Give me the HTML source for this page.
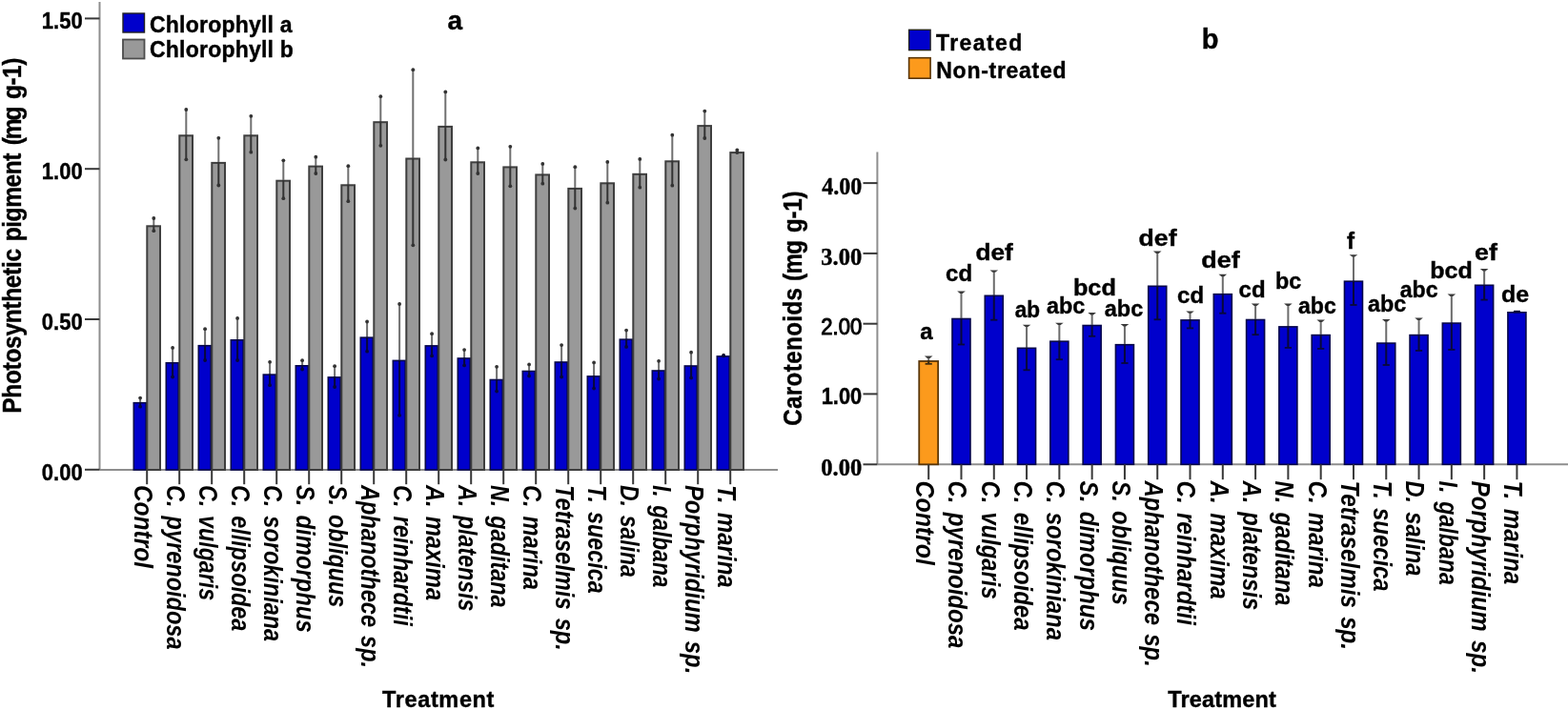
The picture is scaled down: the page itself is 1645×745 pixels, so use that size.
<!DOCTYPE html>
<html lang="en"><head><meta charset="utf-8"><title>Pigment charts</title>
<style>
html,body{margin:0;padding:0;background:#fff;}
body{width:1645px;height:745px;overflow:hidden;}
svg{display:block;filter:blur(0.65px);}
text{font-family:"Liberation Sans",Arial,Helvetica,sans-serif;font-weight:bold;fill:#000;stroke:#000;stroke-width:0.4px;}
.serif{font-family:"Liberation Serif","Times New Roman",serif;}
.semi{font-weight:normal;stroke-width:1px;}
.xl{font-style:italic;font-size:28.4px;stroke:none;word-spacing:3px;}
.yt{font-size:22px;}
.lg{font-size:22px;}
.lt{font-size:24px;}
.ttl{font-size:28px;}
.axt{font-size:22px;}
.ylab{font-size:28.5px;}
.ax{stroke:#8e8e8e;stroke-width:2;fill:none;}
.tk{stroke:#383838;stroke-width:2;fill:none;}
.bb{fill:#0000cc;stroke:#06064a;stroke-width:1.6;}
.bg{fill:#999999;stroke:#3e3e3e;stroke-width:2;}
.bo{fill:#fc9a1c;stroke:#5a3608;stroke-width:1.8;}
</style></head><body>
<svg width="1645" height="745" viewBox="0 0 1645 745">
<rect x="0" y="0" width="1645" height="745" fill="#ffffff"/>
<g id="chart-a">
<line class="ax" x1="104.5" y1="2" x2="104.5" y2="493"/>
<line class="ax" x1="104.5" y1="493" x2="816" y2="493"/>
<line class="tk" x1="89" y1="19.4" x2="104.5" y2="19.4"/>
<text class="yt" style="font-size:23.5px;" x="43.86" y="30.4" textLength="42.84" lengthAdjust="spacingAndGlyphs">1.50</text>
<line class="tk" x1="89" y1="177.2" x2="104.5" y2="177.2"/>
<text class="yt" style="font-size:23.5px;" x="43.86" y="188.2" textLength="42.84" lengthAdjust="spacingAndGlyphs">1.00</text>
<line class="tk" x1="89" y1="335" x2="104.5" y2="335"/>
<text class="yt" style="font-size:23.5px;" x="43.86" y="346" textLength="42.84" lengthAdjust="spacingAndGlyphs">0.50</text>
<line class="tk" x1="89" y1="492.8" x2="104.5" y2="492.8"/>
<text class="yt" style="font-size:23.5px;" x="43.86" y="503.8" textLength="42.84" lengthAdjust="spacingAndGlyphs">0.00</text>
<rect class="bb" x="140.3" y="422.7" width="12.9" height="70.3"/>
<line x1="147.1" y1="416.4" x2="147.1" y2="421.9" stroke="#707070" stroke-width="2"/><line x1="147.1" y1="421.9" x2="147.1" y2="427.9" stroke="#08083a" stroke-width="2"/><circle cx="147.1" cy="417.6" r="1.9" fill="#333"/><circle cx="147.1" cy="426.7" r="1.9" fill="#08083a"/>
<rect class="bg" x="154.3" y="237.3" width="13.7" height="255.7"/>
<line x1="161.3" y1="227.8" x2="161.3" y2="236.3" stroke="#707070" stroke-width="2"/><line x1="161.3" y1="236.3" x2="161.3" y2="243.4" stroke="#333333" stroke-width="2"/><circle cx="161.3" cy="229" r="1.9" fill="#333"/><circle cx="161.3" cy="242.2" r="1.9" fill="#333333"/>
<line class="tk" x1="154.2" y1="493" x2="154.2" y2="508.2"/>
<text class="xl" style="font-size:28.4px" transform="translate(141.2,508.9) rotate(90) scale(0.8634,1)">Control</text>
<rect class="bb" x="174.3" y="380.8" width="12.9" height="112.2"/>
<line x1="181.1" y1="363.7" x2="181.1" y2="380" stroke="#707070" stroke-width="2"/><line x1="181.1" y1="380" x2="181.1" y2="396.7" stroke="#08083a" stroke-width="2"/><circle cx="181.1" cy="364.9" r="1.9" fill="#333"/><circle cx="181.1" cy="395.5" r="1.9" fill="#08083a"/>
<rect class="bg" x="188.3" y="142.3" width="13.7" height="350.7"/>
<line x1="195.3" y1="113.8" x2="195.3" y2="141.3" stroke="#707070" stroke-width="2"/><line x1="195.3" y1="141.3" x2="195.3" y2="168.5" stroke="#333333" stroke-width="2"/><circle cx="195.3" cy="115" r="1.9" fill="#333"/><circle cx="195.3" cy="167.3" r="1.9" fill="#333333"/>
<line class="tk" x1="188.2" y1="493" x2="188.2" y2="508.2"/>
<text class="xl" style="font-size:28.4px" transform="translate(175.2,508.9) rotate(90) scale(0.8300,1)">C. pyrenoidosa</text>
<rect class="bb" x="208.3" y="362.7" width="12.9" height="130.3"/>
<line x1="215.1" y1="344" x2="215.1" y2="361.9" stroke="#707070" stroke-width="2"/><line x1="215.1" y1="361.9" x2="215.1" y2="379.2" stroke="#08083a" stroke-width="2"/><circle cx="215.1" cy="345.2" r="1.9" fill="#333"/><circle cx="215.1" cy="378" r="1.9" fill="#08083a"/>
<rect class="bg" x="222.3" y="170.9" width="13.7" height="322.1"/>
<line x1="229.3" y1="143.6" x2="229.3" y2="169.9" stroke="#707070" stroke-width="2"/><line x1="229.3" y1="169.9" x2="229.3" y2="195.7" stroke="#333333" stroke-width="2"/><circle cx="229.3" cy="144.8" r="1.9" fill="#333"/><circle cx="229.3" cy="194.5" r="1.9" fill="#333333"/>
<line class="tk" x1="222.2" y1="493" x2="222.2" y2="508.2"/>
<text class="xl" style="font-size:28.4px" transform="translate(209.2,508.9) rotate(90) scale(0.8190,1)">C. vulgaris</text>
<rect class="bb" x="242.3" y="356.8" width="12.9" height="136.2"/>
<line x1="249.1" y1="332.7" x2="249.1" y2="356" stroke="#707070" stroke-width="2"/><line x1="249.1" y1="356" x2="249.1" y2="379.2" stroke="#08083a" stroke-width="2"/><circle cx="249.1" cy="333.9" r="1.9" fill="#333"/><circle cx="249.1" cy="378" r="1.9" fill="#08083a"/>
<rect class="bg" x="256.3" y="142.3" width="13.7" height="350.7"/>
<line x1="263.3" y1="120.6" x2="263.3" y2="141.3" stroke="#707070" stroke-width="2"/><line x1="263.3" y1="141.3" x2="263.3" y2="160.9" stroke="#333333" stroke-width="2"/><circle cx="263.3" cy="121.8" r="1.9" fill="#333"/><circle cx="263.3" cy="159.7" r="1.9" fill="#333333"/>
<line class="tk" x1="256.2" y1="493" x2="256.2" y2="508.2"/>
<text class="xl" style="font-size:28.4px" transform="translate(243.2,508.9) rotate(90) scale(0.8249,1)">C. ellipsoidea</text>
<rect class="bb" x="276.3" y="393.1" width="12.9" height="99.9"/>
<line x1="283.1" y1="378.6" x2="283.1" y2="392.3" stroke="#707070" stroke-width="2"/><line x1="283.1" y1="392.3" x2="283.1" y2="405.4" stroke="#08083a" stroke-width="2"/><circle cx="283.1" cy="379.8" r="1.9" fill="#333"/><circle cx="283.1" cy="404.2" r="1.9" fill="#08083a"/>
<rect class="bg" x="290.3" y="189.7" width="13.7" height="303.3"/>
<line x1="297.3" y1="167.1" x2="297.3" y2="188.7" stroke="#707070" stroke-width="2"/><line x1="297.3" y1="188.7" x2="297.3" y2="209.4" stroke="#333333" stroke-width="2"/><circle cx="297.3" cy="168.3" r="1.9" fill="#333"/><circle cx="297.3" cy="208.2" r="1.9" fill="#333333"/>
<line class="tk" x1="290.2" y1="493" x2="290.2" y2="508.2"/>
<text class="xl" style="font-size:28.4px" transform="translate(277.2,508.9) rotate(90) scale(0.8268,1)">C. sorokiniana</text>
<rect class="bb" x="310.3" y="383.8" width="12.9" height="109.2"/>
<line x1="317.1" y1="377" x2="317.1" y2="383" stroke="#707070" stroke-width="2"/><line x1="317.1" y1="383" x2="317.1" y2="388.7" stroke="#08083a" stroke-width="2"/><circle cx="317.1" cy="378.2" r="1.9" fill="#333"/><circle cx="317.1" cy="387.5" r="1.9" fill="#08083a"/>
<rect class="bg" x="324.3" y="174.6" width="13.7" height="318.4"/>
<line x1="331.3" y1="163.5" x2="331.3" y2="173.6" stroke="#707070" stroke-width="2"/><line x1="331.3" y1="173.6" x2="331.3" y2="183.2" stroke="#333333" stroke-width="2"/><circle cx="331.3" cy="164.7" r="1.9" fill="#333"/><circle cx="331.3" cy="182" r="1.9" fill="#333333"/>
<line class="tk" x1="324.2" y1="493" x2="324.2" y2="508.2"/>
<text class="xl" style="font-size:28.4px" transform="translate(311.2,508.9) rotate(90) scale(0.8393,1)">S. dimorphus</text>
<rect class="bb" x="344.3" y="395.9" width="12.9" height="97.1"/>
<line x1="351.1" y1="383" x2="351.1" y2="395.1" stroke="#707070" stroke-width="2"/><line x1="351.1" y1="395.1" x2="351.1" y2="407.2" stroke="#08083a" stroke-width="2"/><circle cx="351.1" cy="384.2" r="1.9" fill="#333"/><circle cx="351.1" cy="406" r="1.9" fill="#08083a"/>
<rect class="bg" x="358.3" y="194.3" width="13.7" height="298.7"/>
<line x1="365.3" y1="173" x2="365.3" y2="193.3" stroke="#707070" stroke-width="2"/><line x1="365.3" y1="193.3" x2="365.3" y2="212.4" stroke="#333333" stroke-width="2"/><circle cx="365.3" cy="174.2" r="1.9" fill="#333"/><circle cx="365.3" cy="211.2" r="1.9" fill="#333333"/>
<line class="tk" x1="358.2" y1="493" x2="358.2" y2="508.2"/>
<text class="xl" style="font-size:28.4px" transform="translate(345.2,508.9) rotate(90) scale(0.8226,1)">S. obliquus</text>
<rect class="bb" x="378.3" y="354.2" width="12.9" height="138.8"/>
<line x1="385.1" y1="336.3" x2="385.1" y2="353.4" stroke="#707070" stroke-width="2"/><line x1="385.1" y1="353.4" x2="385.1" y2="369.9" stroke="#08083a" stroke-width="2"/><circle cx="385.1" cy="337.5" r="1.9" fill="#333"/><circle cx="385.1" cy="368.7" r="1.9" fill="#08083a"/>
<rect class="bg" x="392.3" y="128.2" width="13.7" height="364.8"/>
<line x1="399.3" y1="100" x2="399.3" y2="127.2" stroke="#707070" stroke-width="2"/><line x1="399.3" y1="127.2" x2="399.3" y2="154" stroke="#333333" stroke-width="2"/><circle cx="399.3" cy="101.2" r="1.9" fill="#333"/><circle cx="399.3" cy="152.8" r="1.9" fill="#333333"/>
<line class="tk" x1="392.2" y1="493" x2="392.2" y2="508.2"/>
<text class="xl" style="font-size:28.4px" transform="translate(379.2,508.9) rotate(90) scale(0.8293,1)">Aphanothece sp.</text>
<rect class="bb" x="412.3" y="378.4" width="12.9" height="114.6"/>
<line x1="419.1" y1="317.8" x2="419.1" y2="377.6" stroke="#707070" stroke-width="2"/><line x1="419.1" y1="377.6" x2="419.1" y2="437" stroke="#08083a" stroke-width="2"/><circle cx="419.1" cy="319" r="1.9" fill="#333"/><circle cx="419.1" cy="435.8" r="1.9" fill="#08083a"/>
<rect class="bg" x="426.3" y="166.5" width="13.7" height="326.5"/>
<line x1="433.3" y1="72" x2="433.3" y2="165.5" stroke="#707070" stroke-width="2"/><line x1="433.3" y1="165.5" x2="433.3" y2="258.5" stroke="#333333" stroke-width="2"/><circle cx="433.3" cy="73.2" r="1.9" fill="#333"/><circle cx="433.3" cy="257.3" r="1.9" fill="#333333"/>
<line class="tk" x1="426.2" y1="493" x2="426.2" y2="508.2"/>
<text class="xl" style="font-size:28.4px" transform="translate(413.2,508.9) rotate(90) scale(0.8302,1)">C. reinhardtii</text>
<rect class="bb" x="446.3" y="362.9" width="12.9" height="130.1"/>
<line x1="453.1" y1="349" x2="453.1" y2="362.1" stroke="#707070" stroke-width="2"/><line x1="453.1" y1="362.1" x2="453.1" y2="374.6" stroke="#08083a" stroke-width="2"/><circle cx="453.1" cy="350.2" r="1.9" fill="#333"/><circle cx="453.1" cy="373.4" r="1.9" fill="#08083a"/>
<rect class="bg" x="460.3" y="132.9" width="13.7" height="360.1"/>
<line x1="467.3" y1="95.2" x2="467.3" y2="131.9" stroke="#707070" stroke-width="2"/><line x1="467.3" y1="131.9" x2="467.3" y2="168.7" stroke="#333333" stroke-width="2"/><circle cx="467.3" cy="96.4" r="1.9" fill="#333"/><circle cx="467.3" cy="167.5" r="1.9" fill="#333333"/>
<line class="tk" x1="460.2" y1="493" x2="460.2" y2="508.2"/>
<text class="xl" style="font-size:28.4px" transform="translate(447.2,508.9) rotate(90) scale(0.8361,1)">A. maxima</text>
<rect class="bb" x="480.3" y="376" width="12.9" height="117"/>
<line x1="487.1" y1="365.9" x2="487.1" y2="375.2" stroke="#707070" stroke-width="2"/><line x1="487.1" y1="375.2" x2="487.1" y2="384.6" stroke="#08083a" stroke-width="2"/><circle cx="487.1" cy="367.1" r="1.9" fill="#333"/><circle cx="487.1" cy="383.4" r="1.9" fill="#08083a"/>
<rect class="bg" x="494.3" y="170.3" width="13.7" height="322.7"/>
<line x1="501.3" y1="154.2" x2="501.3" y2="169.3" stroke="#707070" stroke-width="2"/><line x1="501.3" y1="169.3" x2="501.3" y2="183.2" stroke="#333333" stroke-width="2"/><circle cx="501.3" cy="155.4" r="1.9" fill="#333"/><circle cx="501.3" cy="182" r="1.9" fill="#333333"/>
<line class="tk" x1="494.2" y1="493" x2="494.2" y2="508.2"/>
<text class="xl" style="font-size:28.4px" transform="translate(481.2,508.9) rotate(90) scale(0.8168,1)">A. platensis</text>
<rect class="bb" x="514.3" y="398.5" width="12.9" height="94.5"/>
<line x1="521.1" y1="383.6" x2="521.1" y2="397.7" stroke="#707070" stroke-width="2"/><line x1="521.1" y1="397.7" x2="521.1" y2="411.8" stroke="#08083a" stroke-width="2"/><circle cx="521.1" cy="384.8" r="1.9" fill="#333"/><circle cx="521.1" cy="410.6" r="1.9" fill="#08083a"/>
<rect class="bg" x="528.3" y="175.4" width="13.7" height="317.6"/>
<line x1="535.3" y1="152.6" x2="535.3" y2="174.4" stroke="#707070" stroke-width="2"/><line x1="535.3" y1="174.4" x2="535.3" y2="196.5" stroke="#333333" stroke-width="2"/><circle cx="535.3" cy="153.8" r="1.9" fill="#333"/><circle cx="535.3" cy="195.3" r="1.9" fill="#333333"/>
<line class="tk" x1="528.2" y1="493" x2="528.2" y2="508.2"/>
<text class="xl" style="font-size:28.4px" transform="translate(515.2,508.9) rotate(90) scale(0.8252,1)">N. gaditana</text>
<rect class="bb" x="548.3" y="389.5" width="12.9" height="103.5"/>
<line x1="555.1" y1="381.2" x2="555.1" y2="388.7" stroke="#707070" stroke-width="2"/><line x1="555.1" y1="388.7" x2="555.1" y2="395.7" stroke="#08083a" stroke-width="2"/><circle cx="555.1" cy="382.4" r="1.9" fill="#333"/><circle cx="555.1" cy="394.5" r="1.9" fill="#08083a"/>
<rect class="bg" x="562.3" y="183.4" width="13.7" height="309.6"/>
<line x1="569.3" y1="170.7" x2="569.3" y2="182.4" stroke="#707070" stroke-width="2"/><line x1="569.3" y1="182.4" x2="569.3" y2="193.9" stroke="#333333" stroke-width="2"/><circle cx="569.3" cy="171.9" r="1.9" fill="#333"/><circle cx="569.3" cy="192.7" r="1.9" fill="#333333"/>
<line class="tk" x1="562.2" y1="493" x2="562.2" y2="508.2"/>
<text class="xl" style="font-size:28.4px" transform="translate(549.2,508.9) rotate(90) scale(0.8313,1)">C. marina</text>
<rect class="bb" x="582.3" y="380" width="12.9" height="113"/>
<line x1="589.1" y1="360.9" x2="589.1" y2="379.2" stroke="#707070" stroke-width="2"/><line x1="589.1" y1="379.2" x2="589.1" y2="396.7" stroke="#08083a" stroke-width="2"/><circle cx="589.1" cy="362.1" r="1.9" fill="#333"/><circle cx="589.1" cy="395.5" r="1.9" fill="#08083a"/>
<rect class="bg" x="596.3" y="197.9" width="13.7" height="295.1"/>
<line x1="603.3" y1="174" x2="603.3" y2="196.9" stroke="#707070" stroke-width="2"/><line x1="603.3" y1="196.9" x2="603.3" y2="219.8" stroke="#333333" stroke-width="2"/><circle cx="603.3" cy="175.2" r="1.9" fill="#333"/><circle cx="603.3" cy="218.6" r="1.9" fill="#333333"/>
<line class="tk" x1="596.2" y1="493" x2="596.2" y2="508.2"/>
<text class="xl" style="font-size:28.4px" transform="translate(583.2,508.9) rotate(90) scale(0.8340,1)">Tetraselmis sp.</text>
<rect class="bb" x="616.3" y="394.9" width="12.9" height="98.1"/>
<line x1="623.1" y1="379.2" x2="623.1" y2="394.1" stroke="#707070" stroke-width="2"/><line x1="623.1" y1="394.1" x2="623.1" y2="408.8" stroke="#08083a" stroke-width="2"/><circle cx="623.1" cy="380.4" r="1.9" fill="#333"/><circle cx="623.1" cy="407.6" r="1.9" fill="#08083a"/>
<rect class="bg" x="630.3" y="192.3" width="13.7" height="300.7"/>
<line x1="637.3" y1="168.7" x2="637.3" y2="191.3" stroke="#707070" stroke-width="2"/><line x1="637.3" y1="191.3" x2="637.3" y2="213.9" stroke="#333333" stroke-width="2"/><circle cx="637.3" cy="169.9" r="1.9" fill="#333"/><circle cx="637.3" cy="212.7" r="1.9" fill="#333333"/>
<line class="tk" x1="630.2" y1="493" x2="630.2" y2="508.2"/>
<text class="xl" style="font-size:28.4px" transform="translate(617.2,508.9) rotate(90) scale(0.8248,1)">T. suecica</text>
<rect class="bb" x="650.3" y="356.2" width="12.9" height="136.8"/>
<line x1="657.1" y1="345.4" x2="657.1" y2="355.4" stroke="#707070" stroke-width="2"/><line x1="657.1" y1="355.4" x2="657.1" y2="365.1" stroke="#08083a" stroke-width="2"/><circle cx="657.1" cy="346.6" r="1.9" fill="#333"/><circle cx="657.1" cy="363.9" r="1.9" fill="#08083a"/>
<rect class="bg" x="664.3" y="182.8" width="13.7" height="310.2"/>
<line x1="671.3" y1="165.7" x2="671.3" y2="181.8" stroke="#707070" stroke-width="2"/><line x1="671.3" y1="181.8" x2="671.3" y2="197.9" stroke="#333333" stroke-width="2"/><circle cx="671.3" cy="166.9" r="1.9" fill="#333"/><circle cx="671.3" cy="196.7" r="1.9" fill="#333333"/>
<line class="tk" x1="664.2" y1="493" x2="664.2" y2="508.2"/>
<text class="xl" style="font-size:28.4px" transform="translate(651.2,508.9) rotate(90) scale(0.8092,1)">D. salina</text>
<rect class="bb" x="684.3" y="389" width="12.9" height="104"/>
<line x1="691.1" y1="377.6" x2="691.1" y2="388.2" stroke="#707070" stroke-width="2"/><line x1="691.1" y1="388.2" x2="691.1" y2="398.7" stroke="#08083a" stroke-width="2"/><circle cx="691.1" cy="378.8" r="1.9" fill="#333"/><circle cx="691.1" cy="397.5" r="1.9" fill="#08083a"/>
<rect class="bg" x="698.3" y="169.3" width="13.7" height="323.7"/>
<line x1="705.3" y1="140.5" x2="705.3" y2="168.3" stroke="#707070" stroke-width="2"/><line x1="705.3" y1="168.3" x2="705.3" y2="195.9" stroke="#333333" stroke-width="2"/><circle cx="705.3" cy="141.7" r="1.9" fill="#333"/><circle cx="705.3" cy="194.7" r="1.9" fill="#333333"/>
<line class="tk" x1="698.2" y1="493" x2="698.2" y2="508.2"/>
<text class="xl" style="font-size:28.4px" transform="translate(685.2,508.9) rotate(90) scale(0.8038,1)">I. galbana</text>
<rect class="bb" x="718.3" y="384" width="12.9" height="109"/>
<line x1="725.1" y1="368.5" x2="725.1" y2="383.2" stroke="#707070" stroke-width="2"/><line x1="725.1" y1="383.2" x2="725.1" y2="397.7" stroke="#08083a" stroke-width="2"/><circle cx="725.1" cy="369.7" r="1.9" fill="#333"/><circle cx="725.1" cy="396.5" r="1.9" fill="#08083a"/>
<rect class="bg" x="732.3" y="132.1" width="13.7" height="360.9"/>
<line x1="739.3" y1="115.4" x2="739.3" y2="131.1" stroke="#707070" stroke-width="2"/><line x1="739.3" y1="131.1" x2="739.3" y2="146.2" stroke="#333333" stroke-width="2"/><circle cx="739.3" cy="116.6" r="1.9" fill="#333"/><circle cx="739.3" cy="145" r="1.9" fill="#333333"/>
<line class="tk" x1="732.2" y1="493" x2="732.2" y2="508.2"/>
<text class="xl" style="font-size:28.4px" transform="translate(719.2,508.9) rotate(90) scale(0.8389,1)">Porphyridium sp.</text>
<rect class="bb" x="752.3" y="373.9" width="12.9" height="119.1"/>
<line x1="759.1" y1="371.5" x2="759.1" y2="373.1" stroke="#707070" stroke-width="2"/><line x1="759.1" y1="373.1" x2="759.1" y2="374.6" stroke="#08083a" stroke-width="2"/><circle cx="759.1" cy="372.7" r="1.9" fill="#333"/><circle cx="759.1" cy="373.4" r="1.9" fill="#08083a"/>
<rect class="bg" x="766.3" y="160.1" width="13.7" height="332.9"/>
<line x1="773.3" y1="156.2" x2="773.3" y2="159.1" stroke="#707070" stroke-width="2"/><line x1="773.3" y1="159.1" x2="773.3" y2="161.3" stroke="#333333" stroke-width="2"/><circle cx="773.3" cy="157.4" r="1.9" fill="#333"/><circle cx="773.3" cy="160.1" r="1.9" fill="#333333"/>
<line class="tk" x1="766.2" y1="493" x2="766.2" y2="508.2"/>
<text class="xl" style="font-size:28.4px" transform="translate(753.2,508.9) rotate(90) scale(0.8484,1)">T. marina</text>
<rect class="bb" x="129" y="14" width="22.5" height="20" style="stroke:#222;stroke-width:1.4"/>
<rect class="bg" x="129" y="41.5" width="22.5" height="20" style="stroke-width:1.8;stroke:#4d4d4d"/>
<text class="lg" style="font-size:23px;" x="157" y="34.3" textLength="149.55" lengthAdjust="spacing">Chlorophyll a</text>
<text class="lg" style="font-size:23px;" x="157" y="60" textLength="150.82" lengthAdjust="spacing">Chlorophyll b</text>
<text class="ttl" style="font-size:28px;" x="469.45" y="30.8">a</text>
<text class="axt" style="font-size:23.5px;" x="401" y="742" textLength="117.43" lengthAdjust="spacing">Treatment</text>
<text class="ylab" style="font-size:28.5px" transform="translate(21.6,432) rotate(-90) scale(0.86,1)"><tspan x="-2" style="letter-spacing:-0.37px">Photosynthetic </tspan><tspan x="207.77" style="letter-spacing:-0.49px">pigment </tspan><tspan x="325.16" style="letter-spacing:-2.38px">(mg </tspan><tspan x="381.44" style="letter-spacing:-0.62px">g-1)</tspan></text>
</g>
<g id="chart-b">
<line class="ax" x1="920.4" y1="159.5" x2="920.4" y2="487.3"/>
<line class="ax" x1="920.4" y1="487.3" x2="1645" y2="487.3"/>
<line class="tk" x1="905.5" y1="192.1" x2="920.4" y2="192.1"/>
<text class="yt serif" style="font-size:25px;" x="862.2" y="203.7" textLength="42.02" lengthAdjust="spacingAndGlyphs">4.00</text>
<line class="tk" x1="905.5" y1="265.9" x2="920.4" y2="265.9"/>
<text class="yt serif" style="font-size:25px;" x="861.22" y="277.5" textLength="43.02" lengthAdjust="spacingAndGlyphs">3.00</text>
<line class="tk" x1="905.5" y1="339.7" x2="920.4" y2="339.7"/>
<text class="yt semi" style="font-size:23.5px;" x="861.26" y="350.7" textLength="42.94" lengthAdjust="spacingAndGlyphs">2.00</text>
<line class="tk" x1="905.5" y1="413.4" x2="920.4" y2="413.4"/>
<text class="yt" style="font-size:23.5px;" x="861.67" y="424.4" textLength="42.53" lengthAdjust="spacingAndGlyphs">1.00</text>
<line class="tk" x1="905.5" y1="487.3" x2="920.4" y2="487.3"/>
<text class="yt serif" style="font-size:25px;" x="861.22" y="498.9" textLength="43.02" lengthAdjust="spacingAndGlyphs">0.00</text>
<rect class="bo" x="964.25" y="379" width="19.9" height="108.3"/>
<line x1="974.2" y1="374.2" x2="974.2" y2="378.2" stroke="#6c6c6c" stroke-width="2"/><line x1="974.2" y1="378.2" x2="974.2" y2="381.8" stroke="#3a2a10" stroke-width="2"/><path d="M969.9 373.6h8.6l-3 2.4h-2.6z" fill="#3a3a3a"/><line x1="970.6" y1="381.8" x2="977.8" y2="381.8" stroke="#3a2a10" stroke-width="1.8"/>
<line class="tk" x1="974.2" y1="487.3" x2="974.2" y2="503.2"/>
<text class="xl" style="font-size:27.8px" transform="translate(961.1,504.5) rotate(90) scale(0.8949,1)">Control</text>
<rect class="bb" x="998.99" y="334.5" width="19" height="152.8"/>
<line x1="1008.49" y1="306.1" x2="1008.49" y2="333.7" stroke="#6c6c6c" stroke-width="2"/><line x1="1008.49" y1="333.7" x2="1008.49" y2="361.5" stroke="#08083a" stroke-width="2"/><path d="M1004.19 305.5h8.6l-3 2.4h-2.6z" fill="#3a3a3a"/><line x1="1004.89" y1="361.5" x2="1012.09" y2="361.5" stroke="#08083a" stroke-width="1.8"/>
<line class="tk" x1="1008.49" y1="487.3" x2="1008.49" y2="503.2"/>
<text class="xl" style="font-size:27.8px" transform="translate(995.39,504.5) rotate(90) scale(0.8631,1)">C. pyrenoidosa</text>
<rect class="bb" x="1033.28" y="310.3" width="19" height="177"/>
<line x1="1042.78" y1="284" x2="1042.78" y2="309.5" stroke="#6c6c6c" stroke-width="2"/><line x1="1042.78" y1="309.5" x2="1042.78" y2="335.7" stroke="#08083a" stroke-width="2"/><path d="M1038.48 283.4h8.6l-3 2.4h-2.6z" fill="#3a3a3a"/><line x1="1039.18" y1="335.7" x2="1046.38" y2="335.7" stroke="#08083a" stroke-width="1.8"/>
<line class="tk" x1="1042.78" y1="487.3" x2="1042.78" y2="503.2"/>
<text class="xl" style="font-size:27.8px" transform="translate(1029.68,504.5) rotate(90) scale(0.8556,1)">C. vulgaris</text>
<rect class="bb" x="1067.57" y="365.3" width="19" height="122"/>
<line x1="1077.07" y1="341.3" x2="1077.07" y2="364.5" stroke="#6c6c6c" stroke-width="2"/><line x1="1077.07" y1="364.5" x2="1077.07" y2="388.3" stroke="#08083a" stroke-width="2"/><path d="M1072.77 340.7h8.6l-3 2.4h-2.6z" fill="#3a3a3a"/><line x1="1073.47" y1="388.3" x2="1080.67" y2="388.3" stroke="#08083a" stroke-width="1.8"/>
<line class="tk" x1="1077.07" y1="487.3" x2="1077.07" y2="503.2"/>
<text class="xl" style="font-size:27.8px" transform="translate(1063.97,504.5) rotate(90) scale(0.8624,1)">C. ellipsoidea</text>
<rect class="bb" x="1101.86" y="358.2" width="19" height="129.1"/>
<line x1="1111.36" y1="339.3" x2="1111.36" y2="357.4" stroke="#6c6c6c" stroke-width="2"/><line x1="1111.36" y1="357.4" x2="1111.36" y2="377.2" stroke="#08083a" stroke-width="2"/><path d="M1107.06 338.7h8.6l-3 2.4h-2.6z" fill="#3a3a3a"/><line x1="1107.76" y1="377.2" x2="1114.96" y2="377.2" stroke="#08083a" stroke-width="1.8"/>
<line class="tk" x1="1111.36" y1="487.3" x2="1111.36" y2="503.2"/>
<text class="xl" style="font-size:27.8px" transform="translate(1098.26,504.5) rotate(90) scale(0.8613,1)">C. sorokiniana</text>
<rect class="bb" x="1136.15" y="341.5" width="19" height="145.8"/>
<line x1="1145.65" y1="328.7" x2="1145.65" y2="340.7" stroke="#6c6c6c" stroke-width="2"/><line x1="1145.65" y1="340.7" x2="1145.65" y2="352.8" stroke="#08083a" stroke-width="2"/><path d="M1141.35 328.1h8.6l-3 2.4h-2.6z" fill="#3a3a3a"/><line x1="1142.05" y1="352.8" x2="1149.25" y2="352.8" stroke="#08083a" stroke-width="1.8"/>
<line class="tk" x1="1145.65" y1="487.3" x2="1145.65" y2="503.2"/>
<text class="xl" style="font-size:27.8px" transform="translate(1132.55,504.5) rotate(90) scale(0.8728,1)">S. dimorphus</text>
<rect class="bb" x="1170.44" y="361.7" width="19" height="125.6"/>
<line x1="1179.94" y1="340.7" x2="1179.94" y2="360.9" stroke="#6c6c6c" stroke-width="2"/><line x1="1179.94" y1="360.9" x2="1179.94" y2="381" stroke="#08083a" stroke-width="2"/><path d="M1175.64 340.1h8.6l-3 2.4h-2.6z" fill="#3a3a3a"/><line x1="1176.34" y1="381" x2="1183.54" y2="381" stroke="#08083a" stroke-width="1.8"/>
<line class="tk" x1="1179.94" y1="487.3" x2="1179.94" y2="503.2"/>
<text class="xl" style="font-size:27.8px" transform="translate(1166.84,504.5) rotate(90) scale(0.8546,1)">S. obliquus</text>
<rect class="bb" x="1204.73" y="300.3" width="19" height="187"/>
<line x1="1214.23" y1="264.2" x2="1214.23" y2="299.5" stroke="#6c6c6c" stroke-width="2"/><line x1="1214.23" y1="299.5" x2="1214.23" y2="335.3" stroke="#08083a" stroke-width="2"/><path d="M1209.93 263.6h8.6l-3 2.4h-2.6z" fill="#3a3a3a"/><line x1="1210.63" y1="335.3" x2="1217.83" y2="335.3" stroke="#08083a" stroke-width="1.8"/>
<line class="tk" x1="1214.23" y1="487.3" x2="1214.23" y2="503.2"/>
<text class="xl" style="font-size:27.8px" transform="translate(1201.13,504.5) rotate(90) scale(0.8609,1)">Aphanothece sp.</text>
<rect class="bb" x="1239.02" y="335.9" width="19" height="151.4"/>
<line x1="1248.52" y1="327" x2="1248.52" y2="335.1" stroke="#6c6c6c" stroke-width="2"/><line x1="1248.52" y1="335.1" x2="1248.52" y2="344.4" stroke="#08083a" stroke-width="2"/><path d="M1244.22 326.4h8.6l-3 2.4h-2.6z" fill="#3a3a3a"/><line x1="1244.92" y1="344.4" x2="1252.12" y2="344.4" stroke="#08083a" stroke-width="1.8"/>
<line class="tk" x1="1248.52" y1="487.3" x2="1248.52" y2="503.2"/>
<text class="xl" style="font-size:27.8px" transform="translate(1235.42,504.5) rotate(90) scale(0.8686,1)">C. reinhardtii</text>
<rect class="bb" x="1273.31" y="308.7" width="19" height="178.6"/>
<line x1="1282.81" y1="288.4" x2="1282.81" y2="307.9" stroke="#6c6c6c" stroke-width="2"/><line x1="1282.81" y1="307.9" x2="1282.81" y2="328.7" stroke="#08083a" stroke-width="2"/><path d="M1278.51 287.8h8.6l-3 2.4h-2.6z" fill="#3a3a3a"/><line x1="1279.21" y1="328.7" x2="1286.41" y2="328.7" stroke="#08083a" stroke-width="1.8"/>
<line class="tk" x1="1282.81" y1="487.3" x2="1282.81" y2="503.2"/>
<text class="xl" style="font-size:27.8px" transform="translate(1269.71,504.5) rotate(90) scale(0.8759,1)">A. maxima</text>
<rect class="bb" x="1307.6" y="335.5" width="19" height="151.8"/>
<line x1="1317.1" y1="319.2" x2="1317.1" y2="334.7" stroke="#6c6c6c" stroke-width="2"/><line x1="1317.1" y1="334.7" x2="1317.1" y2="351.2" stroke="#08083a" stroke-width="2"/><path d="M1312.8 318.6h8.6l-3 2.4h-2.6z" fill="#3a3a3a"/><line x1="1313.5" y1="351.2" x2="1320.7" y2="351.2" stroke="#08083a" stroke-width="1.8"/>
<line class="tk" x1="1317.1" y1="487.3" x2="1317.1" y2="503.2"/>
<text class="xl" style="font-size:27.8px" transform="translate(1304,504.5) rotate(90) scale(0.8538,1)">A. platensis</text>
<rect class="bb" x="1341.89" y="342.9" width="19" height="144.4"/>
<line x1="1351.39" y1="319.2" x2="1351.39" y2="342.1" stroke="#6c6c6c" stroke-width="2"/><line x1="1351.39" y1="342.1" x2="1351.39" y2="364.9" stroke="#08083a" stroke-width="2"/><path d="M1347.09 318.6h8.6l-3 2.4h-2.6z" fill="#3a3a3a"/><line x1="1347.79" y1="364.9" x2="1354.99" y2="364.9" stroke="#08083a" stroke-width="1.8"/>
<line class="tk" x1="1351.39" y1="487.3" x2="1351.39" y2="503.2"/>
<text class="xl" style="font-size:27.8px" transform="translate(1338.29,504.5) rotate(90) scale(0.8586,1)">N. gaditana</text>
<rect class="bb" x="1376.18" y="351.6" width="19" height="135.7"/>
<line x1="1385.68" y1="336.1" x2="1385.68" y2="350.8" stroke="#6c6c6c" stroke-width="2"/><line x1="1385.68" y1="350.8" x2="1385.68" y2="365.9" stroke="#08083a" stroke-width="2"/><path d="M1381.38 335.5h8.6l-3 2.4h-2.6z" fill="#3a3a3a"/><line x1="1382.08" y1="365.9" x2="1389.28" y2="365.9" stroke="#08083a" stroke-width="1.8"/>
<line class="tk" x1="1385.68" y1="487.3" x2="1385.68" y2="503.2"/>
<text class="xl" style="font-size:27.8px" transform="translate(1372.58,504.5) rotate(90) scale(0.8667,1)">C. marina</text>
<rect class="bb" x="1410.47" y="295.2" width="19" height="192.1"/>
<line x1="1419.97" y1="267.8" x2="1419.97" y2="294.4" stroke="#6c6c6c" stroke-width="2"/><line x1="1419.97" y1="294.4" x2="1419.97" y2="320" stroke="#08083a" stroke-width="2"/><path d="M1415.67 267.2h8.6l-3 2.4h-2.6z" fill="#3a3a3a"/><line x1="1416.37" y1="320" x2="1423.57" y2="320" stroke="#08083a" stroke-width="1.8"/>
<line class="tk" x1="1419.97" y1="487.3" x2="1419.97" y2="503.2"/>
<text class="xl" style="font-size:27.8px" transform="translate(1406.87,504.5) rotate(90) scale(0.8693,1)">Tetraselmis sp.</text>
<rect class="bb" x="1444.76" y="360.1" width="19" height="127.2"/>
<line x1="1454.26" y1="335.7" x2="1454.26" y2="359.3" stroke="#6c6c6c" stroke-width="2"/><line x1="1454.26" y1="359.3" x2="1454.26" y2="383" stroke="#08083a" stroke-width="2"/><path d="M1449.96 335.1h8.6l-3 2.4h-2.6z" fill="#3a3a3a"/><line x1="1450.66" y1="383" x2="1457.86" y2="383" stroke="#08083a" stroke-width="1.8"/>
<line class="tk" x1="1454.26" y1="487.3" x2="1454.26" y2="503.2"/>
<text class="xl" style="font-size:27.8px" transform="translate(1441.16,504.5) rotate(90) scale(0.8578,1)">T. suecica</text>
<rect class="bb" x="1479.05" y="351.6" width="19" height="135.7"/>
<line x1="1488.55" y1="334.1" x2="1488.55" y2="350.8" stroke="#6c6c6c" stroke-width="2"/><line x1="1488.55" y1="350.8" x2="1488.55" y2="367.9" stroke="#08083a" stroke-width="2"/><path d="M1484.25 333.5h8.6l-3 2.4h-2.6z" fill="#3a3a3a"/><line x1="1484.95" y1="367.9" x2="1492.15" y2="367.9" stroke="#08083a" stroke-width="1.8"/>
<line class="tk" x1="1488.55" y1="487.3" x2="1488.55" y2="503.2"/>
<text class="xl" style="font-size:27.8px" transform="translate(1475.45,504.5) rotate(90) scale(0.8509,1)">D. salina</text>
<rect class="bb" x="1513.34" y="339.1" width="19" height="148.2"/>
<line x1="1522.84" y1="309.1" x2="1522.84" y2="338.3" stroke="#6c6c6c" stroke-width="2"/><line x1="1522.84" y1="338.3" x2="1522.84" y2="366.9" stroke="#08083a" stroke-width="2"/><path d="M1518.54 308.5h8.6l-3 2.4h-2.6z" fill="#3a3a3a"/><line x1="1519.24" y1="366.9" x2="1526.44" y2="366.9" stroke="#08083a" stroke-width="1.8"/>
<line class="tk" x1="1522.84" y1="487.3" x2="1522.84" y2="503.2"/>
<text class="xl" style="font-size:27.8px" transform="translate(1509.74,504.5) rotate(90) scale(0.8338,1)">I. galbana</text>
<rect class="bb" x="1547.63" y="299.3" width="19" height="188"/>
<line x1="1557.13" y1="282.7" x2="1557.13" y2="298.5" stroke="#6c6c6c" stroke-width="2"/><line x1="1557.13" y1="298.5" x2="1557.13" y2="314.6" stroke="#08083a" stroke-width="2"/><path d="M1552.83 282.1h8.6l-3 2.4h-2.6z" fill="#3a3a3a"/><line x1="1553.53" y1="314.6" x2="1560.73" y2="314.6" stroke="#08083a" stroke-width="1.8"/>
<line class="tk" x1="1557.13" y1="487.3" x2="1557.13" y2="503.2"/>
<text class="xl" style="font-size:27.8px" transform="translate(1544.03,504.5) rotate(90) scale(0.8751,1)">Porphyridium sp.</text>
<rect class="bb" x="1581.92" y="327.8" width="19" height="159.5"/>
<line x1="1587.92" y1="327" x2="1594.92" y2="327" stroke="#08083a" stroke-width="2.4"/>
<line class="tk" x1="1591.42" y1="487.3" x2="1591.42" y2="503.2"/>
<text class="xl" style="font-size:27.8px" transform="translate(1578.32,504.5) rotate(90) scale(0.8742,1)">T. marina</text>
<text class="lt" style="font-size:24px;" x="965.25" y="356.4">a</text>
<text class="lt" style="font-size:24px;" x="992.1" y="294.8">cd</text>
<text class="lt" style="font-size:24px;" x="1023.51" y="272.9" textLength="39.29" lengthAdjust="spacingAndGlyphs">def</text>
<text class="lt" style="font-size:24px;" x="1064.8" y="333.3" textLength="26.36" lengthAdjust="spacingAndGlyphs">ab</text>
<text class="lt" style="font-size:24px;" x="1098" y="328.7" textLength="40.25" lengthAdjust="spacingAndGlyphs">abc</text>
<text class="lt" style="font-size:24px;" x="1125.95" y="309.5" textLength="44.91" lengthAdjust="spacingAndGlyphs">bcd</text>
<text class="lt" style="font-size:24px;" x="1158.8" y="332.3" textLength="40.45" lengthAdjust="spacingAndGlyphs">abc</text>
<text class="lt" style="font-size:24px;" x="1194.59" y="258.2" textLength="39.91" lengthAdjust="spacingAndGlyphs">def</text>
<text class="lt" style="font-size:24px;" x="1235.05" y="318">cd</text>
<text class="lt" style="font-size:24px;" x="1260.38" y="280.9" textLength="40.42" lengthAdjust="spacingAndGlyphs">def</text>
<text class="lt" style="font-size:24px;" x="1299.6" y="311.5">cd</text>
<text class="lt" style="font-size:24px;" x="1337.93" y="302.9" textLength="27.29" lengthAdjust="spacingAndGlyphs">bc</text>
<text class="lt" style="font-size:24px;" x="1362" y="328.7" textLength="39.85" lengthAdjust="spacingAndGlyphs">abc</text>
<text class="lt" style="font-size:24px;" x="1412.95" y="261.2">f</text>
<text class="lt" style="font-size:24px;" x="1435.1" y="327" textLength="40.25" lengthAdjust="spacingAndGlyphs">abc</text>
<text class="lt" style="font-size:24px;" x="1468.7" y="311.5" textLength="39.85" lengthAdjust="spacingAndGlyphs">abc</text>
<text class="lt" style="font-size:24px;" x="1500.26" y="292.4" textLength="44.49" lengthAdjust="spacingAndGlyphs">bcd</text>
<text class="lt" style="font-size:24px;" x="1547.09" y="272.9" textLength="23.78" lengthAdjust="spacingAndGlyphs">ef</text>
<text class="lt" style="font-size:24px;" x="1574.96" y="316.6" textLength="29.16" lengthAdjust="spacingAndGlyphs">de</text>
<rect class="bb" x="953.6" y="31.3" width="22.5" height="21.3" style="stroke:#222;stroke-width:1.4"/>
<rect class="bo" x="953.6" y="60.7" width="22.5" height="21.5" style="stroke-width:1.6"/>
<text class="lg" style="font-size:23px;" x="982" y="53" textLength="90.23" lengthAdjust="spacing">Treated</text>
<text class="lg" style="font-size:23px;" x="982.3" y="82.4" textLength="136.16" lengthAdjust="spacing">Non-treated</text>
<text class="ttl" style="font-size:29px;" x="1260.7" y="50.7">b</text>
<text class="axt" style="font-size:23.5px;" x="1225.2" y="742" textLength="113.73" lengthAdjust="spacing">Treatment</text>
<text class="ylab" style="font-size:28px" transform="translate(841,446) rotate(-90) scale(0.86,1)"><tspan x="-1" style="letter-spacing:0.5px">Carotenoids </tspan><tspan x="175.63" style="letter-spacing:-0.66px">(mg </tspan><tspan x="234.93" style="letter-spacing:-0.29px">g-1)</tspan></text>
</g>
</svg></body></html>
